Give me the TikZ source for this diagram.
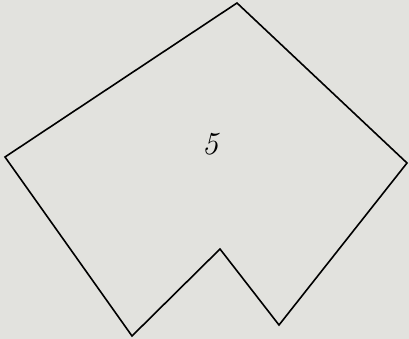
\documentclass[tikz,border=0pt]{standalone}
\usepackage{fontspec}
\definecolor{paper}{RGB}{226,226,222}
\begin{document}
\begin{tikzpicture}[x=1pt,y=-1pt,edge/.style={draw=black,line width=1.6pt,line join=miter}]
\fill[paper] (0,0) rectangle (409,339);
\useasboundingbox (0,0) rectangle (409,339);
\coordinate (t) at (237,3);
\coordinate (r) at (407,163);
\coordinate (br) at (279,325);
\coordinate (n) at (220,249);
\coordinate (bl) at (132,336);
\coordinate (l) at (5,157);
\draw[edge] (t) -- (r) -- (br) -- (n) -- (bl) -- (l) -- cycle;
\node[font=\itshape\fontsize{32}{32}\selectfont] (lab) at (210,144) {5};
\end{tikzpicture}
\end{document}
